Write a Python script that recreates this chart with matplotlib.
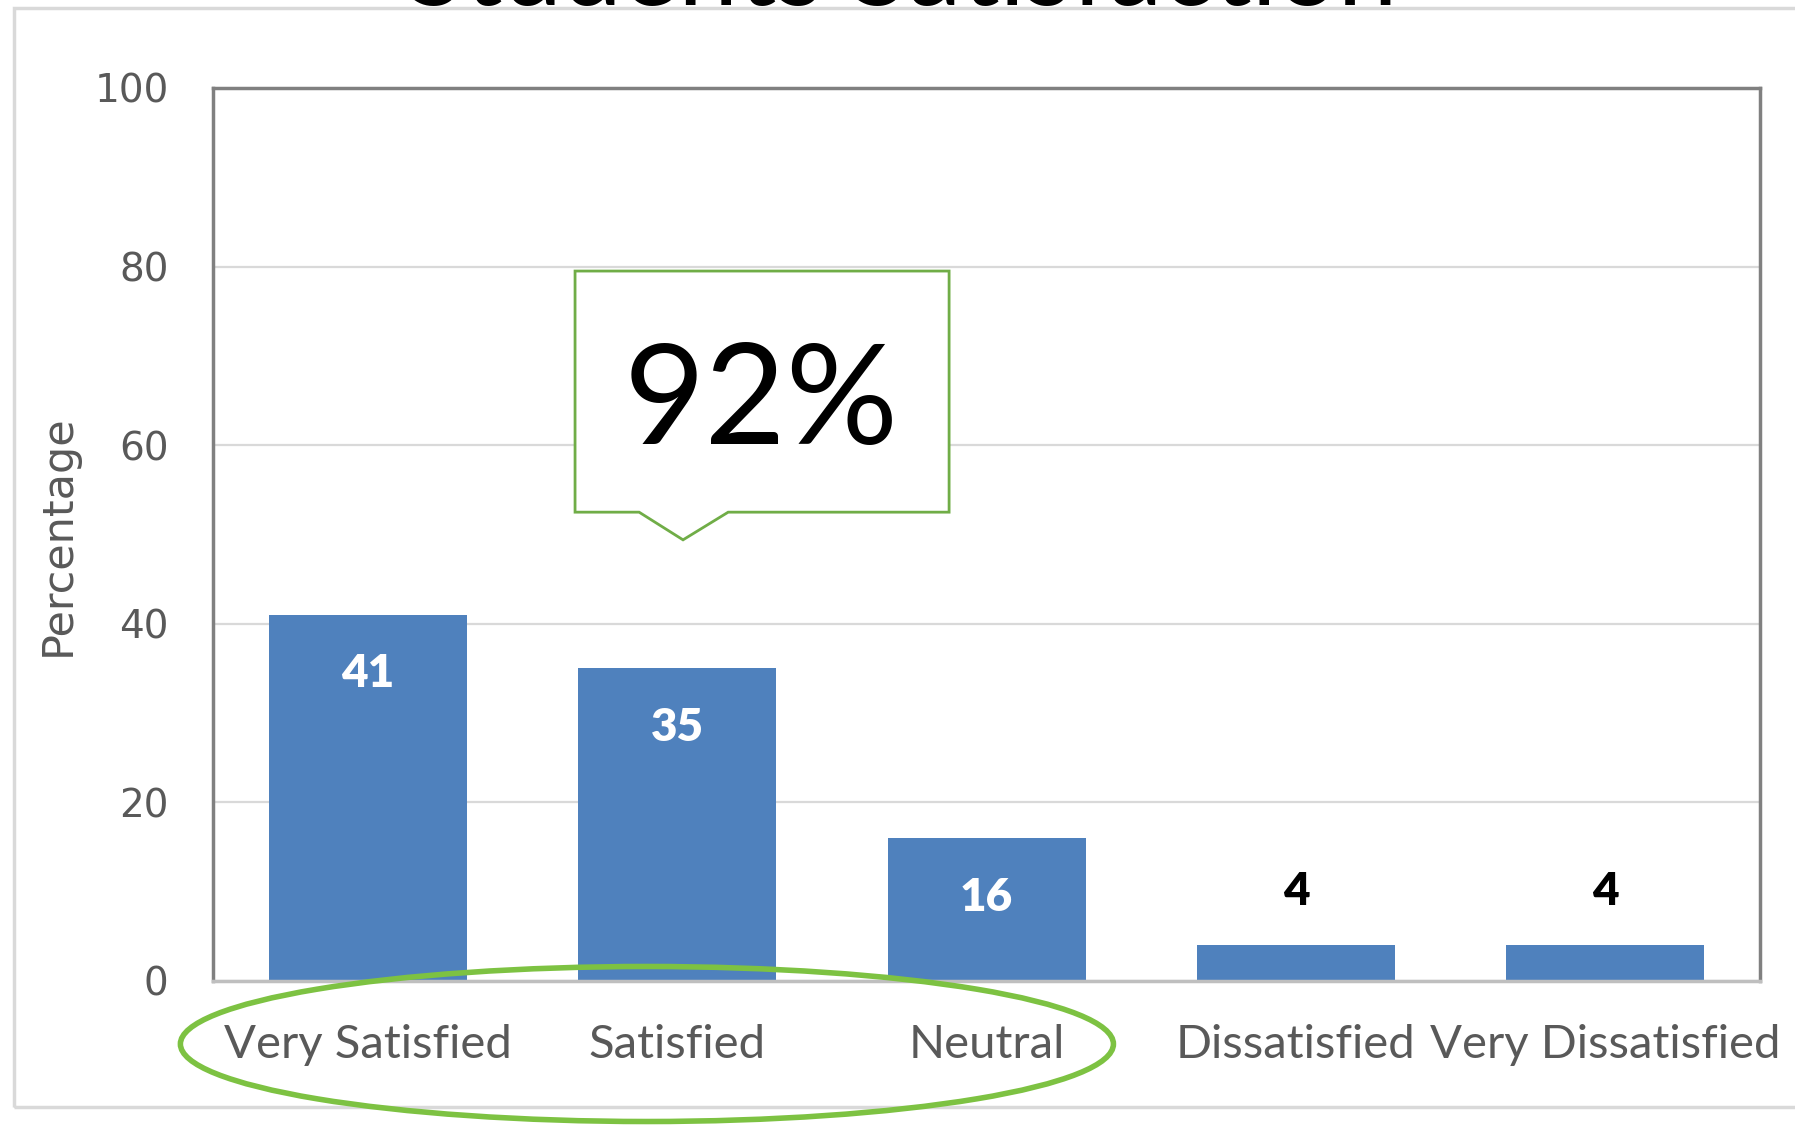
import matplotlib.pyplot as plt
from matplotlib.patches import Ellipse, Polygon, Rectangle

# Datos
categorias = ["Very Satisfied", "Satisfied", "Neutral", "Dissatisfied", "Very Dissatisfied"]
porcentajes = [41, 35, 16, 4, 4]
marcas_y = [0, 20, 40, 60, 80, 100]
titulo = "Students Satisfaction"
etiqueta_y = "Percentage"
resumen = "92%"

azul = "#4F81BD"
gris_texto = "#595959"
verde = "#7DC242"

fig = plt.figure(figsize=(17.95, 11.25), dpi=100)
ax = fig.add_axes([0.1187, 0.128, 0.8618, 0.7938])

x = list(range(len(categorias)))
barras = ax.bar(x, porcentajes, width=0.64, color=azul, zorder=3)

# Etiquetas de datos: blancas dentro, negras encima si la barra es baja
for xi, v in zip(x, porcentajes):
    if v > 10:
        ax.text(xi, v - 6.6, str(v), ha="center", va="center", color="white",
                fontsize=33, fontweight="heavy", family="Lato", zorder=4)
    else:
        ax.text(xi, v + 6.0, str(v), ha="center", va="center", color="black",
                fontsize=33, fontweight="heavy", family="Lato", zorder=4)

ax.set_xlim(-0.5, len(categorias) - 0.5)
ax.set_ylim(0, 100)
ax.set_yticks(marcas_y)
ax.set_yticklabels([str(m) for m in marcas_y], fontsize=28, color=gris_texto,
                   family="DejaVu Sans")
ax.set_xticks(x)
ax.set_xticklabels(categorias, fontsize=34, color=gris_texto, family="Lato")
ax.tick_params(axis="both", length=0)
ax.tick_params(axis="y", pad=32)
ax.tick_params(axis="x", pad=31)

ax.grid(axis="y", color="#D9D9D9", linewidth=1.6, zorder=0)
for lado in ["left", "top", "right"]:
    ax.spines[lado].set_color("#808080")
    ax.spines[lado].set_linewidth(2.5)
ax.spines["bottom"].set_color("#BFBFBF")
ax.spines["bottom"].set_linewidth(2.5)
ax.spines["bottom"].set_zorder(5)

# Cuadro de llamada con el 92%
caja = [(0.670, 79.5), (1.879, 79.5), (1.879, 52.5), (1.165, 52.5),
        (1.019, 49.4), (0.877, 52.5), (0.670, 52.5)]
ax.add_patch(Polygon(caja, closed=True, facecolor="white", edgecolor="#70AD47",
                     linewidth=2, zorder=6, clip_on=False))
ax.text(1.27, 64.6, resumen, ha="center", va="center", fontsize=101,
        family="Lato", color="black", zorder=7)

# Marco exterior, título y etiqueta del eje
fig.patches.append(Rectangle((0.0078, 0.016), 1.2, 0.977, transform=fig.transFigure,
                             fill=False, edgecolor="#D9D9D9", linewidth=2.5))
fig.text(0.5025, 0.996, titulo, ha="center", va="baseline", fontsize=77,
         family="Lato", color="black")
fig.text(0.032, 0.5244, etiqueta_y, rotation=90, ha="center", va="center",
         fontsize=31, color=gris_texto, family="DejaVu Sans")

# Óvalo verde alrededor de las tres primeras categorías
fig.patches.append(Ellipse((0.3604, 0.0720), 0.5198, 0.1378, transform=fig.transFigure,
                           fill=False, edgecolor=verde, linewidth=4))

plt.savefig("out.png", dpi=100)
